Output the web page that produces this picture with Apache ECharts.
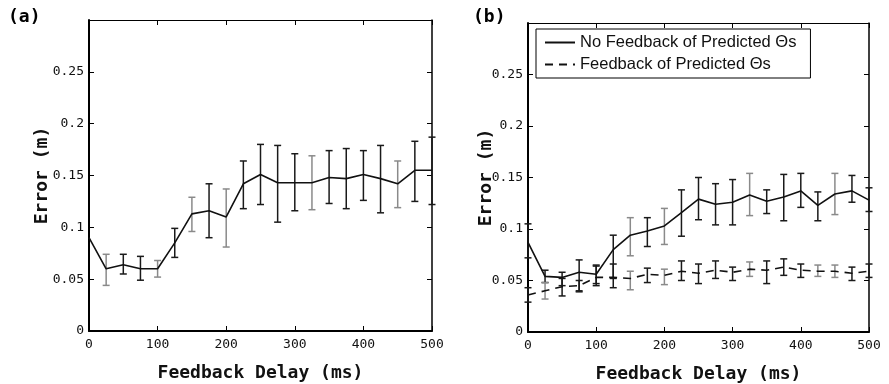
<!DOCTYPE html>
<html>
<head>
<meta charset="utf-8">
<script src="https://cdn.jsdelivr.net/npm/echarts@6/dist/echarts.min.js"></script>
<style>
html, body { margin: 0; background: #fff; }
#chart { width: 889px; height: 384px; }
</style>
</head>
<body>
<div id="chart"></div>
<script>
// feedback delay (ms)
var delays = [0, 25, 50, 75, 100, 125, 150, 175, 200, 225, 250, 275, 300, 325, 350, 375, 400, 425, 450, 475, 500];

// panel (a)
var meanA = [0.090, 0.060, 0.064, 0.060, 0.060, 0.085, 0.113, 0.116, 0.110, 0.142, 0.151, 0.143, 0.143, 0.143, 0.148, 0.147, 0.151, 0.147, 0.142, 0.155, 0.155];
var lowA  = [null, 0.044, 0.055, 0.049, 0.052, 0.071, 0.096, 0.090, 0.081, 0.118, 0.122, 0.105, 0.116, 0.117, 0.123, 0.118, 0.126, 0.114, 0.119, 0.125, 0.122];
var highA = [null, 0.074, 0.074, 0.072, 0.068, 0.099, 0.129, 0.142, 0.137, 0.164, 0.180, 0.179, 0.171, 0.169, 0.174, 0.176, 0.174, 0.179, 0.164, 0.183, 0.187];

// panel (b), no feedback of predicted thetas
var meanB1 = [0.087, 0.054, 0.053, 0.058, 0.056, 0.080, 0.094, 0.098, 0.103, 0.116, 0.129, 0.124, 0.126, 0.133, 0.127, 0.131, 0.137, 0.123, 0.134, 0.137, 0.128];
var lowB1  = [0.072, 0.048, 0.045, 0.040, 0.047, 0.052, 0.074, 0.083, 0.085, 0.093, 0.109, 0.104, 0.104, 0.113, 0.115, 0.108, 0.121, 0.108, 0.114, 0.126, 0.117];
var highB1 = [0.105, 0.060, 0.058, 0.070, 0.065, 0.094, 0.111, 0.111, 0.120, 0.138, 0.150, 0.144, 0.148, 0.154, 0.138, 0.153, 0.154, 0.136, 0.154, 0.152, 0.140];

// panel (b), feedback of predicted thetas
var meanB2 = [0.036, 0.040, 0.044, 0.045, 0.053, 0.053, 0.052, 0.056, 0.055, 0.059, 0.057, 0.060, 0.058, 0.061, 0.060, 0.063, 0.060, 0.059, 0.059, 0.057, 0.059];
var lowB2  = [0.029, 0.032, 0.035, 0.039, 0.045, 0.043, 0.041, 0.048, 0.046, 0.050, 0.047, 0.052, 0.050, 0.054, 0.047, 0.055, 0.053, 0.054, 0.053, 0.050, 0.053];
var highB2 = [0.043, 0.048, 0.052, 0.050, 0.064, 0.066, 0.059, 0.062, 0.061, 0.069, 0.066, 0.069, 0.063, 0.068, 0.069, 0.071, 0.066, 0.065, 0.065, 0.063, 0.066];

// error bars drawn lighter in the scan
var greyA  = [25, 100, 150, 200, 325, 450];
var greyB1 = [150, 200, 325, 450];
var greyB2 = [25, 150, 200, 325, 425, 450];

var yTicks = [0, 0.05, 0.1, 0.15, 0.2, 0.25];

var monoFont = 'DejaVu Sans Mono';

function pairs(mean) {
  return delays.map(function (d, i) { return [d, mean[i]]; });
}

function bars(low, high, grey) {
  var out = [];
  delays.forEach(function (d, i) {
    if (low[i] == null) return;
    out.push([d, low[i], high[i], grey.indexOf(d) >= 0 ? 1 : 0]);
  });
  return out;
}

// vertical error bar with caps
function barRender(params, api) {
  var lo = api.coord([api.value(0), api.value(1)]);
  var hi = api.coord([api.value(0), api.value(2)]);
  var w = 3.5;
  var style = { stroke: api.value(3) ? '#8a8a8a' : '#1a1a1a', lineWidth: 1.5 };
  return {
    type: 'group',
    children: [
      { type: 'line', shape: { x1: lo[0], y1: lo[1], x2: hi[0], y2: hi[1] }, style: style },
      { type: 'line', shape: { x1: lo[0] - w, y1: lo[1], x2: lo[0] + w, y2: lo[1] }, style: style },
      { type: 'line', shape: { x1: hi[0] - w, y1: hi[1], x2: hi[0] + w, y2: hi[1] }, style: style }
    ]
  };
}

function xBottom(grid) {
  return {
    type: 'value', gridIndex: grid, position: 'bottom',
    min: 0, max: 500, interval: 100,
    name: 'Feedback Delay (ms)', nameLocation: 'middle', nameGap: 33,
    nameMoveOverlap: false,
    nameTextStyle: { fontFamily: monoFont, fontWeight: 'bold', fontSize: 18, color: '#111' },
    axisLine: { onZero: false, lineStyle: { color: '#000', width: 2 } },
    axisTick: { inside: true, length: 5, lineStyle: { color: '#000' } },
    axisLabel: { fontFamily: monoFont, fontSize: 13, color: '#111', margin: 7 },
    splitLine: { show: false }
  };
}

function xTop(grid) {
  return {
    type: 'value', gridIndex: grid, position: 'top',
    min: 0, max: 500, interval: 100,
    axisLine: { onZero: false, lineStyle: { color: '#000', width: 1.2 } },
    axisTick: { inside: true, length: 5, lineStyle: { color: '#000' } },
    axisLabel: { show: false },
    splitLine: { show: false }
  };
}

function yLeft(grid, gap) {
  return {
    type: 'value', gridIndex: grid, position: 'left',
    min: 0, max: 0.3, interval: 0.05,
    name: 'Error (m)', nameLocation: 'middle', nameGap: gap,
    nameMoveOverlap: false,
    nameTextStyle: { fontFamily: monoFont, fontWeight: 'bold', fontSize: 18, color: '#111' },
    axisLine: { show: true, onZero: false, lineStyle: { color: '#000', width: 2 } },
    axisTick: { show: true, inside: true, length: 5, lineStyle: { color: '#000' } },
    axisLabel: {
      fontFamily: monoFont, fontSize: 13, color: '#111', margin: 5,
      formatter: function (v) {
        for (var i = 0; i < yTicks.length; i++) {
          if (Math.abs(yTicks[i] - v) < 1e-9) return String(yTicks[i]);
        }
        return '';
      }
    },
    splitLine: { show: false }
  };
}

function yRight(grid) {
  return {
    type: 'value', gridIndex: grid, position: 'right',
    min: 0, max: 0.3, interval: 0.05,
    axisLine: { show: true, onZero: false, lineStyle: { color: '#000', width: 1.5 } },
    axisTick: { show: true, inside: true, length: 5, lineStyle: { color: '#000' } },
    axisLabel: { show: false },
    splitLine: { show: false }
  };
}

var chart = echarts.init(document.getElementById('chart'));
chart.setOption({
  animation: false,
  backgroundColor: '#fff',
  title: [
    { text: '(a)', left: 3, top: 3, textStyle: { fontFamily: monoFont, fontWeight: 'bold', fontSize: 18, color: '#000' } },
    { text: '(b)', left: 468, top: 3, textStyle: { fontFamily: monoFont, fontWeight: 'bold', fontSize: 18, color: '#000' } }
  ],
  legend: {
    data: ['No Feedback of Predicted Θs', 'Feedback of Predicted Θs'],
    orient: 'vertical',
    left: 536, top: 29,
    padding: [5, 14, 5, 8],
    itemGap: 5,
    itemWidth: 30, itemHeight: 18,
    borderColor: '#000', borderWidth: 1,
    itemStyle: { opacity: 0 },
    textStyle: { fontFamily: 'Liberation Sans', fontSize: 16.5, color: '#111' }
  },
  grid: [
    { left: 89, right: 457, top: 20, bottom: 53, outerBoundsMode: 'none' },
    { left: 528, right: 20, top: 23, bottom: 52, outerBoundsMode: 'none' }
  ],
  xAxis: [xBottom(0), xTop(0), xBottom(1), xTop(1)],
  yAxis: [yLeft(0, 38), yRight(0), yLeft(1, 33), yRight(1)],
  series: [
    {
      type: 'custom', xAxisIndex: 0, yAxisIndex: 0,
      renderItem: barRender, encode: { x: 0, y: [1, 2] },
      data: bars(lowA, highA, greyA), z: 3
    },
    {
      type: 'line', xAxisIndex: 0, yAxisIndex: 0,
      data: pairs(meanA), symbol: 'none',
      lineStyle: { color: '#111', width: 1.6 }, z: 4
    },
    {
      type: 'custom', xAxisIndex: 2, yAxisIndex: 2,
      renderItem: barRender, encode: { x: 0, y: [1, 2] },
      data: bars(lowB1, highB1, greyB1), z: 3
    },
    {
      type: 'custom', xAxisIndex: 2, yAxisIndex: 2,
      renderItem: barRender, encode: { x: 0, y: [1, 2] },
      data: bars(lowB2, highB2, greyB2), z: 3
    },
    {
      name: 'No Feedback of Predicted Θs',
      type: 'line', xAxisIndex: 2, yAxisIndex: 2,
      data: pairs(meanB1), symbol: 'none',
      itemStyle: { color: '#111' },
      lineStyle: { color: '#111', width: 1.6 }, z: 4
    },
    {
      name: 'Feedback of Predicted Θs',
      type: 'line', xAxisIndex: 2, yAxisIndex: 2,
      data: pairs(meanB2), symbol: 'none',
      itemStyle: { color: '#111' },
      lineStyle: { color: '#111', width: 1.6, type: [8, 6] }, z: 4
    }
  ]
});
</script>
</body>
</html>
